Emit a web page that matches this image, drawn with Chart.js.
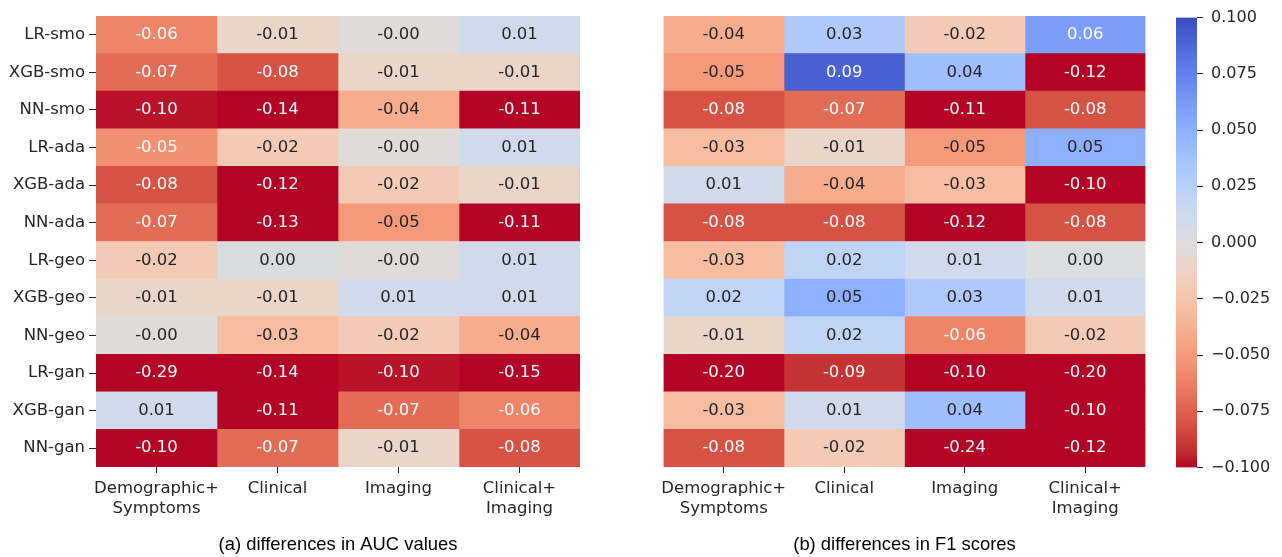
<!DOCTYPE html>
<html>
<head>
<meta charset="utf-8">
<script src="https://cdn.jsdelivr.net/npm/chart.js@4.4.0/dist/chart.umd.min.js"></script>
<style>
    body { margin: 0; background: #fff; width: 1282px; height: 557px; overflow: hidden; }
    canvas { position: absolute; top: 0; }
</style>
</head>
<body>
<canvas id="aucChart" width="600" height="557" style="left:0px"></canvas>
<canvas id="f1Chart" width="520" height="557" style="left:640px"></canvas>
<canvas id="barChart" width="132" height="557" style="left:1150px"></canvas>
<script>

// ==============================
// Data
// ==============================

const rowLabels = ["LR-smo", "XGB-smo", "NN-smo", "LR-ada", "XGB-ada", "NN-ada",
    "LR-geo", "XGB-geo", "NN-geo", "LR-gan", "XGB-gan", "NN-gan"];

const colLabels = [["Demographic+", "Symptoms"], "Clinical", "Imaging", ["Clinical+", "Imaging"]];

// (a) differences in AUC values
const aucDemo     = [-0.06, -0.07, -0.097, -0.054, -0.08, -0.07, -0.02, -0.01, -0.002, -0.29, 0.01, -0.10];
const aucClinical = [-0.01, -0.08, -0.14, -0.02, -0.12, -0.13, 0.002, -0.01, -0.03, -0.14, -0.11, -0.07];
const aucImaging  = [-0.002, -0.01, -0.04, -0.002, -0.02, -0.05, -0.002, 0.01, -0.02, -0.097, -0.07, -0.01];
const aucClinImg  = [0.01, -0.01, -0.11, 0.01, -0.01, -0.11, 0.01, 0.01, -0.04, -0.15, -0.06, -0.08];

// (b) differences in F1 scores
const f1Demo     = [-0.04, -0.05, -0.08, -0.03, 0.01, -0.08, -0.03, 0.02, -0.01, -0.20, -0.03, -0.08];
const f1Clinical = [0.03, 0.09, -0.07, -0.01, -0.04, -0.08, 0.02, 0.05, 0.02, -0.09, 0.01, -0.02];
const f1Imaging  = [-0.02, 0.04, -0.11, -0.05, -0.03, -0.12, 0.01, 0.03, -0.06, -0.10, 0.04, -0.24];
const f1ClinImg  = [0.06, -0.12, -0.08, 0.05, -0.10, -0.08, 0.001, 0.01, -0.02, -0.20, -0.10, -0.12];

const vmin = -0.1;
const vmax = 0.1;
const colorbarStep = 0.025;

// ==============================
// coolwarm colour map (reversed: high = blue)
// ==============================

const coolwarm = [
    [59, 76, 192], [68, 90, 204], [77, 104, 215], [87, 117, 225], [98, 130, 234],
    [108, 142, 241], [119, 154, 247], [130, 165, 251], [141, 176, 254], [152, 185, 255],
    [163, 194, 255], [174, 201, 253], [184, 208, 249], [194, 213, 244], [204, 217, 238],
    [213, 219, 230], [221, 221, 221], [229, 216, 209], [236, 211, 197], [241, 204, 184],
    [245, 196, 172], [247, 187, 159], [247, 177, 147], [247, 166, 134], [244, 154, 123],
    [241, 141, 111], [236, 127, 99], [229, 112, 89], [222, 96, 77], [213, 80, 66],
    [203, 62, 56], [192, 40, 47], [180, 4, 38]
];

function cmap(v) {
    const n = (v - vmin) / (vmax - vmin);
    let k = Math.floor(n * 256);
    k = Math.max(0, Math.min(255, k));
    const t = (255 - k) / 255 * 32;
    const i = Math.min(31, Math.floor(t));
    const f = t - i;
    const a = coolwarm[i];
    const b = coolwarm[i + 1];
    return a.map((c, j) => c + (b[j] - c) * f);
}

function rgb(c) {
    return "rgb(" + c.map(Math.round).join(",") + ")";
}

function luminance(c) {
    const lin = c.map(x => {
        x = x / 255;
        return x <= 0.03928 ? x / 12.92 : Math.pow((x + 0.055) / 1.055, 2.4);
    });
    return 0.2126 * lin[0] + 0.7152 * lin[1] + 0.0722 * lin[2];
}

// ==============================
// Shared styles
// ==============================

const textColor = "#262626";
const tickFont = { family: "'DejaVu Sans'", size: 16.5, lineHeight: 1.2 };

// cell annotations
const annotate = {
    id: "annotate",
    afterDatasetsDraw(chart) {
        const ctx = chart.ctx;
        ctx.save();
        ctx.font = "16.5px 'DejaVu Sans'";
        ctx.textAlign = "center";
        ctx.textBaseline = "middle";
        chart.data.datasets.forEach((ds, j) => {
            chart.getDatasetMeta(j).data.forEach((bar, i) => {
                const v = ds.values[i];
                ctx.fillStyle = luminance(cmap(v)) > 0.408 ? textColor : "#ffffff";
                ctx.fillText(v.toFixed(2), (bar.x + bar.base) / 2, bar.y);
            });
        });
        ctx.restore();
    }
};

function heatmap(canvasId, columns, caption, showRows, padding) {

    new Chart(document.getElementById(canvasId), {
        type: "bar",
        data: {
            labels: rowLabels,
            datasets: columns.map((values, j) => ({
                data: values.map(() => [j, j + 1]),
                values: values,
                backgroundColor: values.map(v => rgb(cmap(v))),
                borderWidth: 0,
                barPercentage: 1,
                categoryPercentage: 1,
                grouped: false
            }))
        },
        options: {
            indexAxis: "y",
            responsive: false,
            animation: false,
            layout: { padding: padding },
            plugins: {
                legend: { display: false },
                tooltip: { enabled: false }
            },
            scales: {
                x: {
                    type: "linear",
                    min: 0,
                    max: columns.length,
                    afterBuildTicks: scale => {
                        scale.ticks = columns.map((c, i) => ({ value: i + 0.5 }));
                    },
                    afterFit: scale => { scale.height = 90; },
                    ticks: {
                        autoSkip: false,
                        maxRotation: 0,
                        padding: 6,
                        color: textColor,
                        font: tickFont,
                        callback: (value, index) => colLabels[index]
                    },
                    grid: {
                        drawOnChartArea: false,
                        tickLength: 6,
                        color: textColor
                    },
                    border: { display: false },
                    title: {
                        display: true,
                        text: caption,
                        color: "#000000",
                        font: { family: "'Liberation Sans'", size: 18.4, lineHeight: 1.2 },
                        padding: { top: 0, bottom: 1 }
                    }
                },
                y: {
                    display: showRows,
                    afterFit: scale => { scale.width = showRows ? 96 : 0; },
                    ticks: {
                        padding: 4,
                        color: textColor,
                        font: tickFont
                    },
                    grid: {
                        drawOnChartArea: false,
                        offset: false,
                        tickLength: 7,
                        color: textColor
                    },
                    border: { display: false }
                }
            }
        },
        plugins: [annotate]
    });
}

// ==============================
// AUC / F1 heatmaps
// ==============================

heatmap("aucChart", [aucDemo, aucClinical, aucImaging, aucClinImg],
    "(a) differences in AUC values", true, { top: 16, right: 20, left: 0, bottom: 0 });

heatmap("f1Chart", [f1Demo, f1Clinical, f1Imaging, f1ClinImg],
    "(b) differences in F1 scores", false, { top: 16, right: 14.5, left: 23.5, bottom: 0 });

// ==============================
// Colour bar
// ==============================

new Chart(document.getElementById("barChart"), {
    type: "bar",
    data: {
        labels: [""],
        datasets: [{
            data: [[vmin, vmax]],
            borderWidth: 0,
            barPercentage: 1,
            categoryPercentage: 1,
            backgroundColor: ctx => {
                const area = ctx.chart.chartArea;
                if (!area) return "#dddddd";
                const g = ctx.chart.ctx.createLinearGradient(0, area.top, 0, area.bottom);
                coolwarm.forEach((c, i) => g.addColorStop(i / 32, rgb(c)));
                return g;
            }
        }]
    },
    options: {
        responsive: false,
        animation: false,
        layout: { padding: { top: 16, left: 26, right: 0, bottom: 89.5 } },
        plugins: {
            legend: { display: false },
            tooltip: { enabled: false }
        },
        scales: {
            x: { display: false },
            y: {
                position: "right",
                min: vmin,
                max: vmax,
                afterFit: scale => { scale.width = 85; },
                ticks: {
                    stepSize: colorbarStep,
                    padding: 8,
                    color: textColor,
                    font: { family: "'DejaVu Sans'", size: 16 },
                    callback: value => {
                        if (Math.abs(value) < 1e-9) value = 0;
                        return value.toFixed(3).replace("-", "\u2212");
                    }
                },
                grid: {
                    drawOnChartArea: false,
                    tickLength: 6,
                    color: textColor
                },
                border: { display: false }
            }
        }
    }
});

</script>
</body>
</html>
